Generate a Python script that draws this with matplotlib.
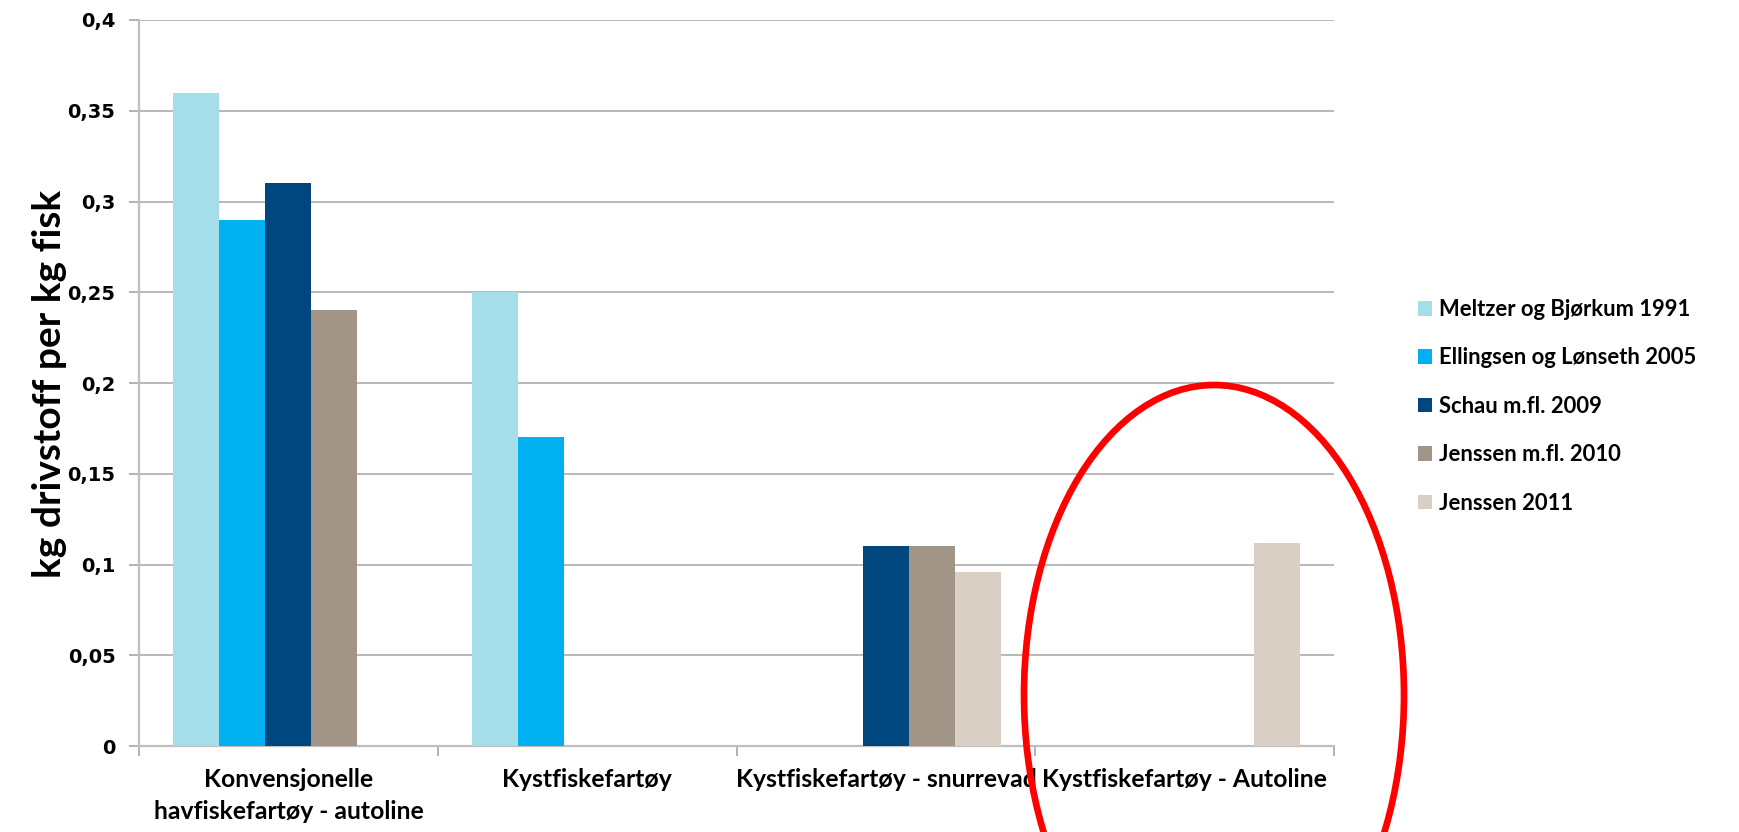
import matplotlib
matplotlib.use("Agg")
import matplotlib.pyplot as plt
from matplotlib.patches import Ellipse, Patch
import numpy as np

categories = ["Konvensjonelle\nhavfiskefartøy - autoline", "Kystfiskefartøy",
              "Kystfiskefartøy - snurrevad", "Kystfiskefartøy - Autoline"]
series_names = ["Meltzer og Bjørkum 1991", "Ellingsen og Lønseth 2005",
                "Schau m.fl. 2009", "Jenssen m.fl. 2010", "Jenssen 2011"]
meltzer_1991 = [0.36, 0.25, 0, 0]
ellingsen_2005 = [0.29, 0.17, 0, 0]
schau_2009 = [0.31, 0, 0.11, 0]
jenssen_2010 = [0.24, 0, 0.11, 0]
jenssen_2011 = [0, 0, 0.096, 0.112]
series_values = [meltzer_1991, ellingsen_2005, schau_2009, jenssen_2010, jenssen_2011]
colors = ["#A5DEE9", "#00B0F0", "#00467F", "#A29588", "#D9CFC5"]
yticks = [0, 0.05, 0.1, 0.15, 0.2, 0.25, 0.3, 0.35, 0.4]
ytick_labels = ["0", "0,05", "0,1", "0,15", "0,2", "0,25", "0,3", "0,35", "0,4"]
ylabel = "kg drivstoff per kg fisk"

W, H = 1740, 832
fig = plt.figure(figsize=(W / 100, H / 100), dpi=100)
ax = fig.add_axes([139 / W, 1 - 746 / H, (1334 - 139) / W, (746 - 20) / H])

x = np.arange(len(categories))
bw = 0.154
for i, (vals, c) in enumerate(zip(series_values, colors)):
    ax.bar(x + (i - 2) * bw, vals, width=bw, color=c, edgecolor="none", zorder=3)

ax.set_xlim(-0.5, len(categories) - 0.5)
ax.set_ylim(0, 0.4)
ax.set_yticks(yticks)
ax.set_yticklabels(ytick_labels, fontsize=14, fontweight="bold", family="DejaVu Sans")
ax.yaxis.grid(True, color="#A6A6A6", linewidth=1.1, zorder=0)
ax.set_axisbelow(True)

ax.set_xticks(x)
ax.set_xticklabels(categories, fontsize=17.8, fontweight="bold", family="Lato", linespacing=1.45)
ax.set_xticks(np.arange(-0.5, len(categories)), minor=True)
ax.tick_params(axis="x", which="major", length=0, pad=16)
ax.tick_params(axis="x", which="minor", length=7, color="#A6A6A6", width=1.2)
ax.tick_params(axis="y", length=7, color="#A6A6A6", width=1.2, pad=10)

for s in ["top", "right"]:
    ax.spines[s].set_visible(False)
for s in ["left", "bottom"]:
    ax.spines[s].set_color("#BFBFBF")
    ax.spines[s].set_linewidth(1.6)

fig.text(50 / W, 1 - 384 / H, ylabel, rotation=90, ha="center", va="center",
         fontsize=28, fontweight="bold", family="Lato")

handles = [Patch(facecolor=c, edgecolor="none") for c in colors]
fig.legend(handles, series_names, loc="upper left", bbox_to_anchor=(1418 / W, 1 - 299 / H),
           frameon=False, prop={"family": "Lato", "weight": "bold", "size": 15.8},
           handlelength=0.65, handleheight=0.65, handletextpad=0.3, labelspacing=1.25,
           borderaxespad=0, borderpad=0)

over = fig.add_axes([0, 0, 1, 1], facecolor="none")
over.set_xlim(0, W)
over.set_ylim(H, 0)
over.axis("off")
over.add_patch(Ellipse((1214, 695), 380, 620, fill=False, edgecolor="#FF0000", linewidth=4.8))

fig.savefig("out.png", dpi=100)
